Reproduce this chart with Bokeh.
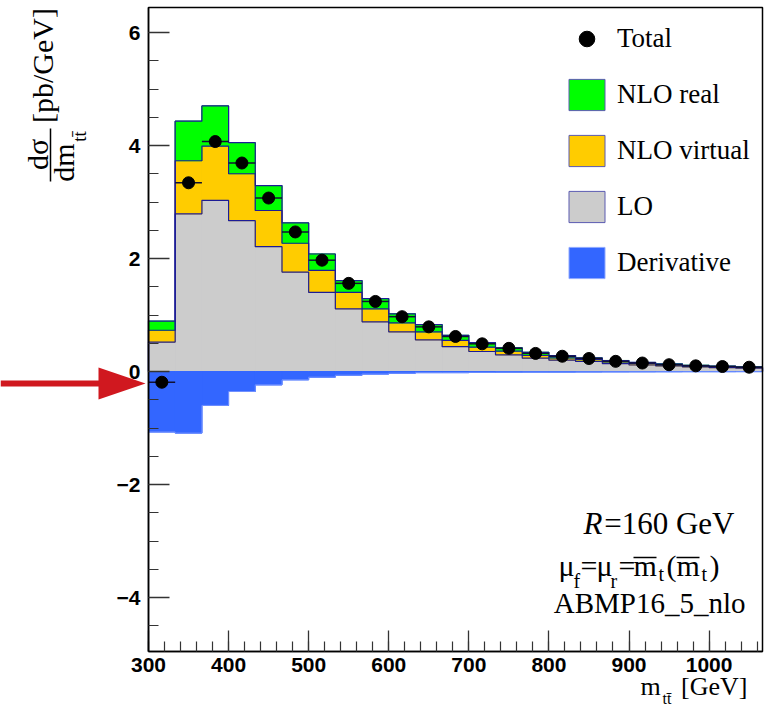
import numpy as np
from math import pi
from bokeh.plotting import figure
from bokeh.models import (Range1d, SingleIntervalTicker, Label, LinearAxis, PolyAnnotation,
                          Legend, LegendItem)
from bokeh.embed import file_html
from bokeh.resources import INLINE

# ---------------- data ----------------
bin_edges = [300.0, 333.3, 366.7, 400.0, 433.3, 466.7, 500.0, 533.3, 566.7, 600.0,
             633.3, 666.7, 700.0, 733.3, 766.7, 800.0, 833.3, 866.7, 900.0, 933.3,
             966.7, 1000.0, 1033.3, 1066.7]
lo = [0.52, 2.79, 3.03, 2.67, 2.21, 1.76, 1.40, 1.11, 0.88, 0.70,
      0.56, 0.44, 0.354, 0.295, 0.235, 0.200, 0.177, 0.140, 0.115, 0.097,
      0.080, 0.067, 0.058]
nlo_virtual = [0.21, 0.94, 0.96, 0.83, 0.64, 0.51, 0.39, 0.29, 0.23, 0.16,
               0.14, 0.11, 0.076, 0.065, 0.048, 0.040, 0.033, 0.030, 0.025, 0.021,
               0.015, 0.015, 0.013]
nlo_real = [0.16, 0.70, 0.71, 0.55, 0.44, 0.36, 0.29, 0.21, 0.18, 0.16,
            0.13, 0.09, 0.08, 0.06, 0.057, 0.043, 0.030, 0.025, 0.020, 0.018,
            0.015, 0.012, 0.012]
derivative = [-1.07, -1.09, -0.60, -0.354, -0.236, -0.147, -0.100, -0.065, -0.045, -0.030,
              -0.020, -0.020, -0.015, -0.012, -0.010, -0.010, -0.008, -0.006, -0.005, -0.004,
              -0.003, -0.003, -0.002]
total = [-0.19, 3.34, 4.07, 3.69, 3.07, 2.47, 1.97, 1.56, 1.24, 0.97,
         0.79, 0.62, 0.49, 0.41, 0.32, 0.27, 0.23, 0.18, 0.15, 0.12,
         0.10, 0.088, 0.076]
y_tick_overrides = {-4: "\u22124", -2: "\u22122"}
legend_labels = ["Total", "NLO real", "NLO virtual", "LO", "Derivative"]

# ---------------- style / layout ----------------
GREEN = "#00ff00"
ORANGE = "#ffcc00"
GREY = "#cccccc"
BLUE = "#3366ff"
NAVY = "#1c1c96"
LIGHTBLUE = "#7090ff"
SWATCH_LINE = "#5a5ab0"
RED = "#d0181f"
SERIF = "Liberation Serif"
SANS = "Liberation Sans"

W, H = 765, 710
# axes box of the histogram, in page pixels
BOX_L, BOX_R, BOX_T, BOX_B = 148, 762, 7, 651
X0, X1 = 300.0, 1066.7          # x extent of the histogram box
PX_PER_X = (BOX_R - BOX_L) / (X1 - X0)
PX_PER_Y = 56.5
ZERO_PY = 371
Y0 = -(BOX_B - ZERO_PY) / PX_PER_Y
Y1 = (ZERO_PY - BOX_T) / PX_PER_Y


def dx(px):
    return X0 + (px - BOX_L) / PX_PER_X


def dy(py):
    return (ZERO_PY - py) / PX_PER_Y


edges = np.array(bin_edges)
left, right = edges[:-1], edges[1:]
centers = 0.5 * (left + right)
lo_a = np.array(lo)
v_top = lo_a + np.array(nlo_virtual)
r_top = v_top + np.array(nlo_real)
der = np.array(derivative)

# the frame spans the whole canvas so that titles / arrow outside the box are not clipped
p = figure(width=W, height=H, x_range=Range1d(dx(0), dx(W)), y_range=Range1d(dy(H), dy(0)),
           output_backend="svg", toolbar_location=None,
           x_axis_location=None, y_axis_location=None, min_border=0)
p.grid.visible = False
p.outline_line_color = None
p.background_fill_color = "white"
p.border_fill_color = "white"

layers = [
    (0, lo_a, GREY, SWATCH_LINE),
    (lo_a, v_top, ORANGE, SWATCH_LINE),
    (v_top, r_top, GREEN, SWATCH_LINE),
    (der, 0, BLUE, "#8fa8ff"),
]
# outlined copies underneath (used as legend swatches), then plain fills on top
swatch = []
for bot, top, col, lc in layers:
    swatch.append(p.quad(left=left, right=right, bottom=bot, top=top,
                         fill_color=col, line_color=lc, line_width=1))
for bot, top, col, lc in layers:
    p.quad(left=left, right=right, bottom=bot, top=top,
           fill_color=col, line_color=col, line_width=1)


def step_line(vals):
    xs, ys = [bin_edges[0]], [0.0]
    for i, v in enumerate(vals):
        xs += [bin_edges[i], bin_edges[i + 1]]
        ys += [float(v), float(v)]
    xs.append(bin_edges[-1])
    ys.append(0.0)
    return xs, ys


xs, ys = step_line(der)
p.line(xs, ys, line_color=LIGHTBLUE, line_width=1)
for vals in (lo_a, v_top, r_top):
    xs, ys = step_line(vals)
    p.line(xs, ys, line_color=NAVY, line_width=1.2)
p.segment(x0=[bin_edges[0]], y0=[derivative[0]], x1=[bin_edges[0]], y1=[Y0],
          line_color="#aab0e6", line_width=1.2)

# total points with bin-width bars
p.segment(x0=left, x1=right, y0=total, y1=total, line_color="#111133", line_width=1.5)
r_pts = p.scatter(x=centers, y=total, size=12, color="black")

# box around the histogram area
p.quad(left=[X0], right=[X1], bottom=[Y0], top=[Y1], fill_color=None,
       line_color="black", line_width=1.5)

legend = Legend(items=[LegendItem(label=legend_labels[0], renderers=[r_pts]),
                       LegendItem(label=legend_labels[1], renderers=[swatch[2]]),
                       LegendItem(label=legend_labels[2], renderers=[swatch[1]]),
                       LegendItem(label=legend_labels[3], renderers=[swatch[0]]),
                       LegendItem(label=legend_labels[4], renderers=[swatch[3]])],
                location=(564, H - 282), border_line_alpha=0, background_fill_alpha=0,
                glyph_width=45, glyph_height=39, label_height=39,
                label_text_font=SERIF, label_text_font_size="27px", label_text_color="black",
                label_standoff=8, spacing=17, padding=0, margin=0)
p.add_layout(legend)

# axes fixed on the histogram box edges
xaxis = LinearAxis(fixed_location=Y0, bounds=(X0, X1),
                   ticker=SingleIntervalTicker(interval=100, num_minor_ticks=5))
yaxis = LinearAxis(fixed_location=X0, bounds=(Y0, Y1),
                   ticker=SingleIntervalTicker(interval=2, num_minor_ticks=4),
                   major_label_overrides=y_tick_overrides)
for ax in (xaxis, yaxis):
    ax.major_tick_in = 21
    ax.major_tick_out = 0
    ax.minor_tick_in = 10
    ax.minor_tick_out = 0
    ax.axis_line_width = 1.5
    ax.major_tick_line_width = 1.3
    ax.minor_tick_line_width = 1.2
    ax.major_tick_line_color = "#333333"
    ax.minor_tick_line_color = "#333333"
    ax.major_label_text_font = SANS
    ax.major_label_text_font_style = "bold"
    ax.major_label_text_font_size = "21px"
    ax.major_label_text_color = "black"
yaxis.major_label_standoff = 8
xaxis.major_label_standoff = 6
p.add_layout(xaxis, "below")
p.add_layout(yaxis, "left")


def lab(px, py, text, size, align="left", angle=0.0, style="normal", font=SERIF):
    # texts are positioned by the vertical middle of their line box
    p.add_layout(Label(x=dx(px), y=dy(py), text=text, angle=angle,
                       text_align=align, text_baseline="middle",
                       text_font=font, text_font_size=f"{size}px",
                       text_font_style=style, text_color="black"))


def vlab(cx, cy, text, size):
    # rotated (reading upwards) text, positioned by its centre
    lab(cx, cy, text, size, align="center", angle=pi / 2)


def bar(px0, px1, py0, py1, width=1.5):
    p.segment(x0=[dx(px0)], y0=[dy(py0)], x1=[dx(px1)], y1=[dy(py1)],
              line_color="black", line_width=width)


# y-axis title (rotated): d(sigma) / d m_tt  [pb/GeV]
vlab(37, 154, "d\u03c3", 30)
vlab(63, 162, "dm", 30)
vlab(79, 136, "tt\u0304", 19)
vlab(42, 65, "[pb/GeV]", 30)
bar(50, 50, 128, 181)

# x-axis title
lab(640, 686, "m", 26)
lab(662, 698, "tt\u0304", 16)
lab(747, 686, "[GeV]", 26, align="right")

# annotation text bottom right
lab(583, 523, "R", 31, style="italic")
lab(734, 523, "=160 GeV", 31, align="right")
lab(558, 565, "\u03bc", 30)
lab(573, 580, "f", 20)
lab(580, 565, "=", 30)
lab(596, 565, "\u03bc", 30)
lab(610, 580, "r", 20)
lab(618, 565, "=", 30)
lab(633, 565, "m", 30)
bar(633, 656, 557, 557)
lab(658, 573, "t", 20)
lab(666, 565, "(", 30)
lab(676, 565, "m", 30)
bar(676, 699, 557, 557)
lab(701, 573, "t", 20)
lab(709, 565, ")", 30)
lab(745, 602, "ABMP16_5_nlo", 29, align="right")

# red arrow pointing at the zero line
p.add_layout(PolyAnnotation(xs=[dx(0), dx(100), dx(100), dx(0)],
                            ys=[dy(380), dy(380), dy(386), dy(386)],
                            fill_color=RED, fill_alpha=1, line_color=None))
p.add_layout(PolyAnnotation(xs=[dx(98), dx(145), dx(98)],
                            ys=[dy(367), dy(383), dy(399)],
                            fill_color=RED, fill_alpha=1, line_color=None))

open("out.html", "w").write(file_html(p, INLINE))
